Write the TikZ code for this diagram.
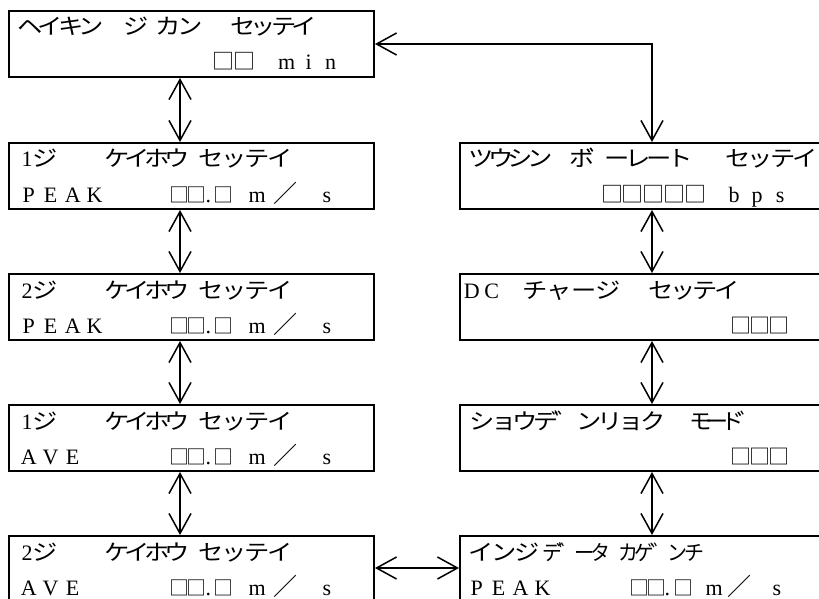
\documentclass[tikz,border=0pt]{standalone}
\usepackage{fontspec}
\usepackage{graphicx}
\setmainfont{Liberation Serif}
\newfontfamily\cjkfam[Kerning=Off]{Noto Sans CJK JP}
\usetikzlibrary{arrows.meta,calc}
\newcommand\at[2]{\rlap{\hspace*{#1pt}#2}}
\newcommand\cellwrap[1]{#1}
\makeatletter
\newcommand\spcd[2]{\def\sp@w{#1}\sp@loop#2\relax}
\def\sp@loop#1{\ifx#1\relax\else\makebox[\sp@w pt][c]{\cellwrap{#1}}\expandafter\sp@loop\fi}
\makeatother
% CJK cells: [x-scale] size, pitch, characters
\newcommand\kk[4][1.15]{{\fontsize{#2}{24}\selectfont\cjkfam\renewcommand\cellwrap[1]{\scalebox{#1}[1]{##1}}\spcd{#3}{#4}}}
% Latin cells: pitch, characters
\newcommand\latc[2]{\spcd{#1}{#2}}
\tikzset{
  box/.style={draw, line width=2pt, inner sep=0pt, anchor=north west, minimum height=66pt},
  lbox/.style={box, minimum width=365pt},
  rbox/.style={box, minimum width=400pt},
  txt/.style={inner sep=0pt, anchor=base west},
  link/.style={line width=1.5pt, {Straight Barb[length=20pt,width=22pt]}-{Straight Barb[length=20pt,width=22pt]}}
}
\begin{document}
\begin{tikzpicture}[x=1pt,y=-1pt,font=\fontsize{22}{24}\selectfont]
\useasboundingbox (0,0) rectangle (819,599);
\clip (0,0) rectangle (819,599);
\coordinate (colL) at (180,0);
\coordinate (colR) at (652,0);
\coordinate (rowB) at (0,568);
% left column
\node[lbox] (t)  at (8,10)  {};
\node[lbox] (p1) at (8,142) {};
\node[lbox] (p2) at (8,273) {};
\node[lbox] (a1) at (8,404) {};
\node[lbox, minimum height=80pt] (a2) at (8,535) {};
% right column
\node[rbox] (r1) at (459,142) {};
\node[rbox] (r2) at (459,273) {};
\node[rbox] (r3) at (459,404) {};
\node[rbox, minimum height=80pt] (r4) at (459,535) {};
% texts, top box
\node[txt] (tA) at ($(t.north west)+(0,25)$) {\at{11}{\kk{22}{20.5}{ヘイキン}}\at{116.5}{\kk{22}{21}{ジ}}\at{149}{\kk{22}{21.5}{カン}}\at{224}{\kk{22}{20.5}{セッテイ}}};
\node[txt] (tB) at ($(t.north west)+(0,60)$) {\at{204}{\kk[1]{22}{21.5}{□□}}\at{267}{\latc{22}{min}}};
% speed boxes
\node[txt] (p1A) at ($(p1.north west)+(0,25)$) {\at{13}{1}\at{25}{\kk{22}{22}{ジ}}\at{98}{\kk{22}{20}{ケイホウ}}\at{191}{\kk{22}{23}{セッテイ}}};
\node[txt] (p1B) at ($(p1.north west)+(0,60)$) {\at{163}{\kk[1]{20}{16.5}{□□}}\at{197}{.}\at{206}{\kk[1]{20}{18}{□}}\at{9}{\latc{22}{PEAK}}\at{240}{m}\at{264}{\kk[1]{24}{25}{／}}\at{314}{s}};
\node[txt] (p2A) at ($(p2.north west)+(0,25)$) {\at{13}{2}\at{25}{\kk{22}{22}{ジ}}\at{98}{\kk{22}{20}{ケイホウ}}\at{191}{\kk{22}{23}{セッテイ}}};
\node[txt] (p2B) at ($(p2.north west)+(0,60)$) {\at{163}{\kk[1]{20}{16.5}{□□}}\at{197}{.}\at{206}{\kk[1]{20}{18}{□}}\at{9}{\latc{22}{PEAK}}\at{240}{m}\at{264}{\kk[1]{24}{25}{／}}\at{314}{s}};
\node[txt] (a1A) at ($(a1.north west)+(0,25)$) {\at{13}{1}\at{25}{\kk{22}{22}{ジ}}\at{98}{\kk{22}{20}{ケイホウ}}\at{191}{\kk{22}{23}{セッテイ}}};
\node[txt] (a1B) at ($(a1.north west)+(0,60)$) {\at{163}{\kk[1]{20}{16.5}{□□}}\at{197}{.}\at{206}{\kk[1]{20}{18}{□}}\at{9}{\latc{22}{AVE}}\at{240}{m}\at{264}{\kk[1]{24}{25}{／}}\at{314}{s}};
\node[txt] (a2A) at ($(a2.north west)+(0,25)$) {\at{13}{2}\at{25}{\kk{22}{22}{ジ}}\at{98}{\kk{22}{20}{ケイホウ}}\at{191}{\kk{22}{23}{セッテイ}}};
\node[txt] (a2B) at ($(a2.north west)+(0,60)$) {\at{163}{\kk[1]{20}{16.5}{□□}}\at{197}{.}\at{206}{\kk[1]{20}{18}{□}}\at{9}{\latc{22}{AVE}}\at{240}{m}\at{264}{\kk[1]{24}{25}{／}}\at{314}{s}};
% right boxes
\node[txt] (r1A) at ($(r1.north west)+(0,25)$) {\at{12}{\kk{22}{19.5}{ツウシン}}\at{114}{\kk{22}{17}{ボ゛}}\at{147}{\kk{22}{21}{ーレート}}\at{267}{\kk{22}{22.5}{セッテイ}}};
\node[txt] (r1B) at ($(r1.north west)+(0,60)$) {\at{142}{\kk[1]{22}{20.8}{□□□□□}}\at{263}{\latc{23}{bps}}};
\node[txt] (r2A) at ($(r2.north west)+(0,25)$) {\at{2}{\latc{20}{DC}}\at{63}{\kk{22}{24.5}{チャージ}}\at{190}{\kk{22}{22}{セッテイ}}};
\node[txt] (r2B) at ($(r2.north west)+(0,60)$) {\at{272}{\kk[1]{21}{19}{□□□}}};
\node[txt] (r3A) at ($(r3.north west)+(0,25)$) {\at{12}{\kk{22}{21.3}{ショウデ゛ンリョク}}\at{233}{\kk[1.05]{22}{16}{モード゛}}};
\node[txt] (r3B) at ($(r3.north west)+(0,60)$) {\at{272}{\kk[1]{21}{19}{□□□}}};
\node[txt] (r4A) at ($(r4.north west)+(0,25)$) {\at{10}{\kk{22}{23}{インジ}}\at{85}{\kk[0.95]{21}{16}{デ゛ータ}}\at{160}{\kk[0.95]{21}{16.6}{カゲ゛ンチ}}};
\node[txt] (r4B) at ($(r4.north west)+(0,60)$) {\at{172}{\kk[1]{20}{16.5}{□□}}\at{205}{.}\at{215}{\kk[1]{20}{18}{□}}\at{6}{\latc{22}{PEAK}}\at{246}{m}\at{267}{\kk[1]{24}{25}{／}}\at{313}{s}};
% connectors
\draw[link] (t.south -| colL) -- (p1.north -| colL);
\draw[link] (p1.south -| colL) -- (p2.north -| colL);
\draw[link] (p2.south -| colL) -- (a1.north -| colL);
\draw[link] (a1.south -| colL) -- (a2.north -| colL);
\draw[link] (r1.south -| colR) -- (r2.north -| colR);
\draw[link] (r2.south -| colR) -- (r3.north -| colR);
\draw[link] (r3.south -| colR) -- (r4.north -| colR);
\draw[link] (t.east) -- (t.east -| colR) -- (r1.north -| colR);
\draw[link] (a2.east |- rowB) -- (r4.west |- rowB);
\end{tikzpicture}
\end{document}
